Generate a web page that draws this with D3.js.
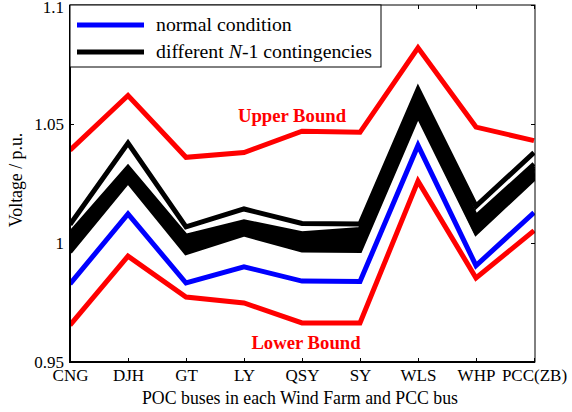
<!DOCTYPE html>
<html><head><meta charset="utf-8">
<script src="https://cdn.jsdelivr.net/npm/d3@7"></script>
<style>body{margin:0;background:#fff}svg{display:block}text{font-family:"Liberation Serif","Times New Roman",serif}</style>
</head><body>
<svg id="c" width="572" height="412"></svg>
<script>
const categories = ["CNG","DJH","GT","LY","QSY","SY","WLS","WHP","PCC(ZB)"];
const yTicks = [0.95, 1, 1.05, 1.1];
const yTickLabels = ["0.95","1","1.05","1.1"];
const upperBound = [1.039, 1.062, 1.036, 1.038, 1.047, 1.0465, 1.082, 1.0487, 1.043];
const lowerBound = [0.9655, 0.9945, 0.9773, 0.9748, 0.9664, 0.9664, 1.026, 0.9853, 1.0052];
const normal = [0.9828, 1.0122, 0.9832, 0.990, 0.984, 0.9838, 1.041, 0.9905, 1.0128];
const contingencies = [
  [1.0078, 1.0420, 1.0068, 1.0143, 1.0082, 1.0080, 1.0645, 1.0155, 1.0380],
  [1.0040, 1.0318, 1.0030, 1.0090, 1.0040, 1.0058, 1.0635, 1.0112, 1.0332],
  [1.0032, 1.0312, 1.0024, 1.0086, 1.0034, 1.0045, 1.0625, 1.0101, 1.0323],
  [1.0020, 1.0306, 1.0014, 1.0079, 1.0027, 1.0036, 1.0614, 1.0093, 1.0316],
  [1.0012, 1.0299, 1.0008, 1.0073, 1.0020, 1.0024, 1.0604, 1.0086, 1.0309],
  [1.0006, 1.0293, 1.0003, 1.0066, 1.0011, 1.0017, 1.0596, 1.0078, 1.0301],
  [0.9997, 1.0287, 0.9995, 1.0061, 1.0004, 1.0009, 1.0586, 1.0071, 1.0296],
  [0.9990, 1.0281, 0.9989, 1.0055, 0.9997, 1.0001, 1.0576, 1.0063, 1.0290],
  [0.9983, 1.0275, 0.9981, 1.0050, 0.9990, 0.9994, 1.0566, 1.0056, 1.0285],
  [0.9975, 1.0269, 0.9974, 1.0045, 0.9983, 0.9987, 1.0556, 1.0051, 1.0280],
  [0.9968, 1.0263, 0.9966, 1.0040, 0.9976, 0.9978, 1.0546, 1.0046, 1.0275],
  [0.9962, 1.0258, 0.9958, 1.0036, 0.9970, 0.9968, 1.0536, 1.0042, 1.0270]
];

const svg = d3.select("#c");
const L = 70, R = 535, T = 5, B = 362;
const x = d3.scalePoint().domain(categories).range([L, R - 1]);
const y = d3.scaleLinear().domain([0.95, 1.1]).range([B, T]);
const line = d3.line().x((d,i)=>x(categories[i])).y(d=>y(d)).curve(d3.curveLinear);

const plot = svg.append("g");
plot.append("defs").append("clipPath").attr("id","clip").append("rect")
  .attr("x",L).attr("y",T).attr("width",R-L).attr("height",B-T);
const g = plot.append("g").attr("clip-path","url(#clip)");

function draw(data, color, w){
  g.append("path").datum(data).attr("d", line).attr("fill","none")
    .attr("stroke", color).attr("stroke-width", w || 5).attr("stroke-linejoin","miter").attr("stroke-miterlimit",10);
}
draw(upperBound, "#ff0000");
contingencies.forEach((c,i) => draw(c, "#000", i === 0 ? 5 : 4.5));
draw(normal, "#0000ff");
draw(lowerBound, "#ff0000");

// axes
const xAxisB = d3.axisBottom(x).tickSize(-4).tickPadding(7);
const gxb = svg.append("g").attr("transform",`translate(0,${B})`).call(xAxisB);
gxb.select(".domain").remove();
gxb.selectAll("text").attr("font-size",17).attr("fill","#000").attr("font-family","Liberation Serif");
const gxt = svg.append("g").attr("transform",`translate(0,${T})`).call(d3.axisTop(x).tickSize(-4).tickFormat(""));
gxt.select(".domain").remove();

const yAxisL = d3.axisLeft(y).tickValues(yTicks).tickFormat((d,i)=>yTickLabels[i]).tickSize(-4).tickPadding(6);
const gyl = svg.append("g").attr("transform",`translate(${L},0)`).call(yAxisL);
gyl.select(".domain").remove();
gyl.selectAll("text").attr("font-size",17).attr("fill","#000").attr("font-family","Liberation Serif");
gyl.selectAll(".tick").filter(d=>d===1.1).select("text").attr("dy","0.42em");
const gyr = svg.append("g").attr("transform",`translate(${R},0)`).call(d3.axisRight(y).tickValues(yTicks).tickSize(-4).tickFormat(""));
gyr.select(".domain").remove();

svg.append("rect").attr("x",L).attr("y",T).attr("width",R-L).attr("height",B-T)
  .attr("fill","none").attr("stroke","#000").attr("stroke-width",1);
svg.append("line").attr("x1",L).attr("x2",L).attr("y1",T).attr("y2",B+1).attr("stroke","#000").attr("stroke-width",2);
svg.append("line").attr("x1",L-1).attr("x2",R).attr("y1",B).attr("y2",B).attr("stroke","#000").attr("stroke-width",2);

// annotations
svg.append("text").attr("x",292).attr("y",122).attr("text-anchor","middle")
  .attr("font-size",18.7).attr("font-weight","bold").attr("fill","#ff0000").text("Upper Bound");
svg.append("text").attr("x",306).attr("y",349).attr("text-anchor","middle")
  .attr("font-size",18.7).attr("font-weight","bold").attr("fill","#ff0000").text("Lower Bound");

// legend
const lg = svg.append("g");
lg.append("rect").attr("x",L).attr("y",T).attr("width",381-L).attr("height",67-T)
  .attr("fill","#fff").attr("stroke","#000").attr("stroke-width",1);
const legendItems = [{c:"#0000ff", y:25}, {c:"#000", y:52}];
legendItems.forEach(it=>{
  lg.append("line").attr("x1",77).attr("x2",144).attr("y1",it.y).attr("y2",it.y)
    .attr("stroke",it.c).attr("stroke-width",5);
});
lg.append("text").attr("x",156).attr("y",31).attr("font-size",19.8).text("normal condition");
const t2 = lg.append("text").attr("x",156).attr("y",58).attr("font-size",19.8);
t2.append("tspan").text("different ");
t2.append("tspan").attr("font-style","italic").text("N");
t2.append("tspan").text("-1 contingencies");

// axis titles
svg.append("text").attr("x",300).attr("y",404).attr("text-anchor","middle").attr("font-size",17.8)
  .text("POC buses in each Wind Farm and PCC bus");
svg.append("text").attr("transform","translate(22,180) rotate(-90)").attr("text-anchor","middle").attr("font-size",17.8)
  .text("Voltage / p.u.");
</script>
</body></html>
